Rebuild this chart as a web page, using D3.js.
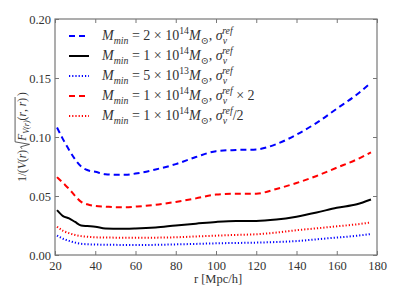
<!DOCTYPE html>
<html><head><meta charset="utf-8">
<script src="https://cdn.jsdelivr.net/npm/d3@7"></script>
<style>body{margin:0;background:#fff}</style>
</head><body>
<svg id="c" width="399" height="299"></svg>
<script>
const r = [21,24,27,30,33,36,40,45,50,55,60,70,80,90,100,110,120,130,140,150,160,170,177];
const m2e14 = [0.108,0.098,0.089,0.081,0.075,0.072,0.0705,0.0685,0.068,0.068,0.069,0.0725,0.077,0.083,0.088,0.089,0.0895,0.094,0.102,0.112,0.124,0.136,0.146];
const m1e14 = [0.038,0.033,0.031,0.028,0.025,0.0245,0.024,0.0225,0.0223,0.0222,0.0224,0.0233,0.025,0.0265,0.028,0.0288,0.0288,0.030,0.0325,0.036,0.040,0.043,0.047];
const m5e13 = [0.0165,0.0138,0.012,0.0105,0.0095,0.0091,0.0089,0.0087,0.0086,0.0085,0.0085,0.0086,0.009,0.0094,0.0099,0.0102,0.0105,0.011,0.0118,0.0133,0.0148,0.0163,0.0178];
const m1e14x2 = [0.066,0.061,0.056,0.050,0.045,0.043,0.0415,0.041,0.0405,0.0404,0.041,0.0425,0.045,0.048,0.0512,0.052,0.052,0.056,0.061,0.067,0.074,0.081,0.087];
const m1e14h = [0.024,0.0205,0.0185,0.017,0.016,0.0155,0.0150,0.0148,0.0147,0.0146,0.0146,0.0147,0.015,0.0157,0.0164,0.017,0.0176,0.019,0.021,0.0226,0.0243,0.026,0.0276];
const xTicks = [20,40,60,80,100,120,140,160,180];
const yTicks = [0.00,0.05,0.10,0.15,0.20];
const legendMass = ["2","1","5","1","1"];
const legendExp = ["14","14","13","14","14"];
const legendSuffix = ["","",""," \u00D7 2","/2"];

const styles = [
  {color:"#0000ff", dash:"6,4"},
  {color:"#000000", dash:null},
  {color:"#0000ff", dash:"1.2,2"},
  {color:"#ff0000", dash:"6,4"},
  {color:"#ff0000", dash:"1.2,2"}
];
const seriesVals = [m2e14, m1e14, m5e13, m1e14x2, m1e14h];

const svg = d3.select("#c");
const L=55, R=377, T=19, B=255;
const x = d3.scaleLinear().domain([20,180]).range([L,R]);
const y = d3.scaleLinear().domain([0,0.2]).range([B,T]);
const font = "'Liberation Serif', 'DejaVu Serif', serif";
const txtCol = "#333";
const axCol = "#777";

const line = d3.line().x((d,i)=>x(r[i])).y(d=>y(d)).curve(d3.curveMonotoneX);
const plot = svg.append("g");
plot.append("defs").append("clipPath").attr("id","clip").append("rect")
  .attr("x",L).attr("y",T).attr("width",R-L).attr("height",B-T);
seriesVals.forEach((v,k)=>{
  plot.append("path").attr("d",line(v)).attr("fill","none")
    .attr("stroke",styles[k].color).attr("stroke-width",2)
    .attr("stroke-dasharray",styles[k].dash).attr("clip-path","url(#clip)");
});

// axes
const tl = 4;
const gB = svg.append("g").attr("transform",`translate(0,${B})`)
  .call(d3.axisBottom(x).tickValues(xTicks).tickSizeInner(-tl).tickSizeOuter(0).tickPadding(6).tickFormat(d3.format("d")));
const gT = svg.append("g").attr("transform",`translate(0,${T})`)
  .call(d3.axisTop(x).tickValues(xTicks).tickSizeInner(-tl).tickSizeOuter(0).tickFormat(""));
const gL = svg.append("g").attr("transform",`translate(${L},0)`)
  .call(d3.axisLeft(y).tickValues(yTicks).tickSizeInner(-tl).tickSizeOuter(0).tickPadding(4).tickFormat(d3.format(".2f")));
const gR = svg.append("g").attr("transform",`translate(${R},0)`)
  .call(d3.axisRight(y).tickValues(yTicks).tickSizeInner(-tl).tickSizeOuter(0).tickFormat(""));
[gB,gT,gL,gR].forEach(g=>{
  g.attr("font-family",null).attr("font-size",null);
  g.select(".domain").remove();
  g.selectAll("line").attr("stroke",axCol);
  g.selectAll("text").style("font-family",font).style("font-size","12.5px").attr("fill",txtCol);
});
svg.append("rect").attr("x",L).attr("y",T).attr("width",R-L).attr("height",B-T)
  .attr("fill","none").attr("stroke",axCol).attr("stroke-width",1.2);

// x label
svg.append("text").attr("x",(L+R)/2+2).attr("y",283).attr("text-anchor","middle")
  .style("font-family",font).style("font-size","12.5px").attr("fill",txtCol).text("r [Mpc/h]");

// rich text helper
function rich(t, parts, fs){
  let cur=0;
  parts.forEach(p=>{
    const ts=t.append("tspan").text(p.t);
    let off=0, size=fs;
    if(p.pos==="sub"){off=fs*0.3; size=fs*0.7;}
    if(p.pos==="sup"){off=-fs*0.4; size=fs*0.7;}
    ts.attr("dy",off-cur); cur=off;
    ts.style("font-size",size+"px");
    if(p.i) ts.style("font-style","italic");
    if(p.dx) ts.attr("dx",p.dx);
  });
  return t;
}

// y label with drawn radical
const fsY = 11.5;
const yg = svg.append("g");
const t1 = yg.append("text").attr("x",0).attr("y",0).style("font-family",font).style("font-size",fsY+"px").attr("fill",txtCol);
rich(t1,[{t:"1/("},{t:"V",i:1},{t:"("},{t:"r",i:1},{t:")"}],fsY);
const w1 = t1.node().getComputedTextLength();
const radW = 8;
const t2 = yg.append("text").attr("x",w1+radW+1).attr("y",0).style("font-family",font).style("font-size",fsY+"px").attr("fill",txtCol);
rich(t2,[{t:"F",i:1},{t:"V(r)",i:1,pos:"sub"},{t:"("},{t:"r",i:1},{t:", "},{t:"r",i:1},{t:")"}],fsY);
const w2 = t2.node().getComputedTextLength();
const radTop = -fsY*0.95;
yg.append("path").attr("d",`M${w1+1},${-4} L${w1+3},${-5.5} L${w1+5.5},${3.5} L${w1+radW},${radTop} L${w1+radW+w2+2},${radTop}`)
  .attr("fill","none").attr("stroke",txtCol).attr("stroke-width",0.8);
const t3 = yg.append("text").attr("x",w1+radW+w2+3).attr("y",0).style("font-family",font).style("font-size",fsY+"px").attr("fill",txtCol).text(")");
const W = w1+radW+w2+3+t3.node().getComputedTextLength();
yg.attr("transform",`translate(26,${(T+B)/2+W/2}) rotate(-90)`);

// legend
const lg = svg.append("g");
const ly0=36, ldy=20, fsL=14;
styles.forEach((s,k)=>{
  const yy = ly0+k*ldy;
  lg.append("line").attr("x1",69).attr("x2",89).attr("y1",yy).attr("y2",yy)
    .attr("stroke",s.color).attr("stroke-width",2).attr("stroke-dasharray",s.dash);
  const t = lg.append("text").attr("x",102).attr("y",yy+4).style("font-family",font)
    .style("font-size",fsL+"px").attr("fill",txtCol);
  const parts=[{t:"M",i:1},{t:"min",i:1,pos:"sub"},{t:" = "+legendMass[k]+" \u00D7 10"},{t:legendExp[k],pos:"sup"},
    {t:"M",i:1},{t:"\u2299",pos:"sub"},{t:",  "},{t:"\u03C3",i:1},{t:"v",i:1,pos:"sub"},{t:"ref",i:1,pos:"sup",dx:-5}];
  if(legendSuffix[k]) parts.push({t:legendSuffix[k]});
  rich(t,parts,fsL);
});
</script>
</body></html>
